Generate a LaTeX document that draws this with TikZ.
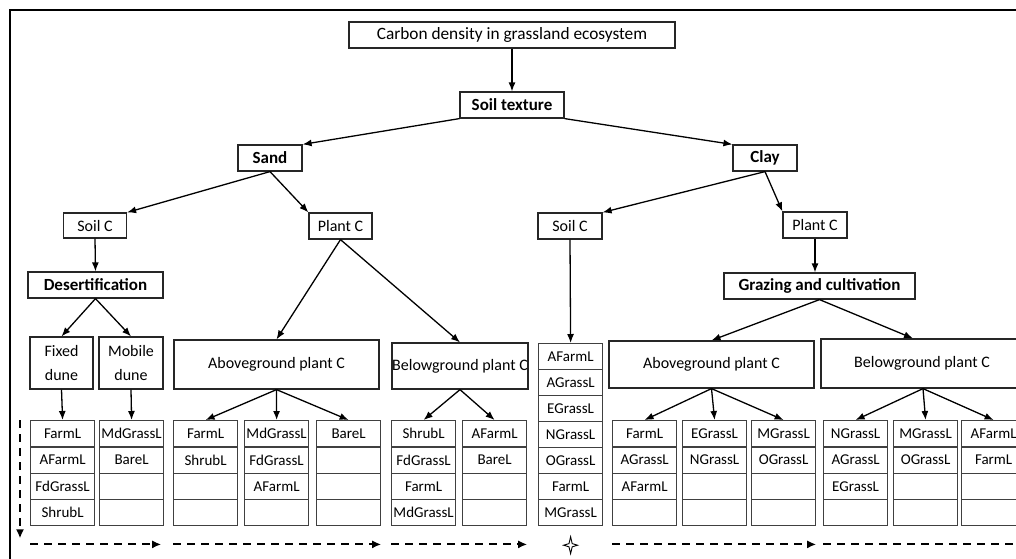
\documentclass[tikz,border=0pt]{standalone}
\usepackage{fontspec}
\setmainfont{Carlito}
\usetikzlibrary{arrows.meta,positioning}

\begin{document}
\begin{tikzpicture}[x=1pt,y=-1pt,
  box/.style={draw=black!85,line width=1.2pt,inner sep=0pt,align=center,font=\fontsize{16}{24}\selectfont},
  boldbox/.style={box,font=\fontsize{17}{20}\selectfont\bfseries},
  cell/.style={draw=black!75,line width=1.2pt,inner sep=0pt,anchor=north west,minimum width=64pt,minimum height=26.3pt,font=\fontsize{15}{18}\selectfont},
  link/.style={-{Latex[length=9pt,width=7pt]},line width=1.3pt},
  flow/.style={-{Latex[length=9pt,width=8pt]},line width=2pt,dash pattern=on 8pt off 6pt}]
\useasboundingbox (0,0) rectangle (1016,558);
% \draw[help lines] (0,0) grid (1016,558);
\draw[line width=2.5pt] (1040,10) -- (10,10) -- (10,570);
%
\node (top) [box,minimum width=326pt,minimum height=26pt,font=\fontsize{17.3}{20}\selectfont] at (512,35) {Carbon density in grassland ecosystem};
\node (texture) [boldbox,minimum width=104pt,minimum height=26pt] at (512,105) {Soil texture};
\node (sand) [boldbox,minimum width=64pt,minimum height=26pt] at (270,158) {Sand};
\node (clay) [boldbox,minimum width=64pt,minimum height=26pt] at (765,158) {Clay};
%
\node (soilL) [box,minimum width=63pt,minimum height=25pt] at (95,225.5) {Soil C};
\node (plantL) [box,minimum width=63pt,minimum height=26pt] at (340.5,226) {Plant C};
\node (soilR) [box,minimum width=64pt,minimum height=26pt] at (570,226) {Soil C};
\node (plantR) [box,minimum width=64pt,minimum height=26pt] at (815,225) {Plant C};
%
\node (desert) [boldbox,minimum width=135pt,minimum height=26pt] at (95.5,285) {Desertification};
\node (graze) [boldbox,minimum width=191pt,minimum height=26pt] at (819.5,286) {Grazing and cultivation};
%
\node (fixed) [box,minimum width=63pt,minimum height=52pt] at (61.5,363) {Fixed\\dune};
\node (mobile) [box,minimum width=64pt,minimum height=52pt] at (131,363) {Mobile\\dune};
\node (aboveL) [box,minimum width=205pt,minimum height=49pt] at (276.5,364.5) {Aboveground plant C};
\node (belowL) [box,minimum width=136pt,minimum height=46pt] at (460,366) {Belowground plant C};
\node (aboveR) [box,minimum width=205pt,minimum height=47pt] at (711.5,364.5) {Aboveground plant C};
\node (belowR) [box,minimum width=202pt,minimum height=49pt] at (922,363.5) {Belowground plant C};
%
\foreach \cname/\xl/\items in {
  c1/30/{FarmL,AFarmL,FdGrassL,ShrubL},
  c2/99/{MdGrassL,BareL,{},{}},
  c3/173/{FarmL,ShrubL,{},{}},
  c4/244/{MdGrassL,FdGrassL,AFarmL,{}},
  c5/316/{BareL,{},{},{}},
  c6/391/{ShrubL,FdGrassL,FarmL,MdGrassL},
  c7/462/{AFarmL,BareL,{},{}},
  c8/612/{FarmL,AGrassL,AFarmL,{}},
  c9/682/{EGrassL,NGrassL,{},{}},
  c10/751/{MGrassL,OGrassL,{},{}},
  c11/823/{NGrassL,AGrassL,EGrassL,{}},
  c12/893/{MGrassL,OGrassL,{},{}},
  c13/961/{AFarmL,FarmL,{},{}}}
  \foreach \txt [count=\i] in \items
    \node (\cname-\i) [cell] at (\xl,{420+(\i-1)*26.3}) {\txt};
\foreach \txt [count=\i] in {AFarmL,AGrassL,EGrassL,NGrassL,OGrassL,FarmL,MGrassL}
  \node (s-\i) [cell,minimum height=26pt] at (538,{343+(\i-1)*26}) {\txt};
%
\path[link] (top.south) edge (texture.north)
  (texture.south west) edge (sand.north east)
  (texture.south east) edge (clay.north west)
  (sand.south) edge (soilL.north east)
  (sand.south) edge (plantL.north west)
  (clay.south) edge (soilR.north east)
  (clay.south) edge (plantR.north west)
  (soilL.south) edge (desert.north)
  (desert.south) edge (fixed.north)
  (desert.south) edge (mobile.north)
  (plantL.south) edge (aboveL.north)
  (plantL.south) edge (belowL.north)
  (soilR.south) edge (s-1.north)
  (plantR.south) edge (plantR.south |- graze.north)
  (graze.south) edge (aboveR.north)
  (graze.south) edge ([xshift=-9pt]belowR.north)
  (fixed.south) edge (c1-1.north)
  (mobile.south) edge (c2-1.north)
  (aboveL.south) edge (c3-1.north) edge (c4-1.north) edge (c5-1.north)
  (belowL.south) edge (c6-1.north) edge (c7-1.north)
  (aboveR.south) edge (c8-1.north) edge (c9-1.north) edge (c10-1.north)
  ([xshift=1pt]belowR.south) edge (c11-1.north) edge (c12-1.north) edge (c13-1.north);
%
\path[flow] ([xshift=-10pt]c1-1.north west) edge ([xshift=-10pt,yshift=-12pt]c1-4.south west)
  ([yshift=-18pt]c1-4.south west) edge ([yshift=-18pt,xshift=-3pt]c2-4.south east)
  ([yshift=-18pt]c3-4.south west) edge ([yshift=-18pt]c5-4.south east)
  ([yshift=-18pt]c6-4.south west) edge ([yshift=-18pt]c7-4.south east)
  ([yshift=-18pt]c8-4.south west) edge ([yshift=-18pt]c10-4.south east)
  ([yshift=-18pt]c11-4.south west) edge ([yshift=-18pt]c13-4.south east);
%
\coordinate (mark) at ([yshift=-19pt]s-7.south);
\draw[line width=0.9pt] (mark) +(0,-8.5) -- +(1.6,-1.6) -- +(7,0) -- +(1.6,1.6) -- +(0,8.5)
  -- +(-1.6,1.6) -- +(-7,0) -- +(-1.6,-1.6) -- cycle;
\end{tikzpicture}
\end{document}
